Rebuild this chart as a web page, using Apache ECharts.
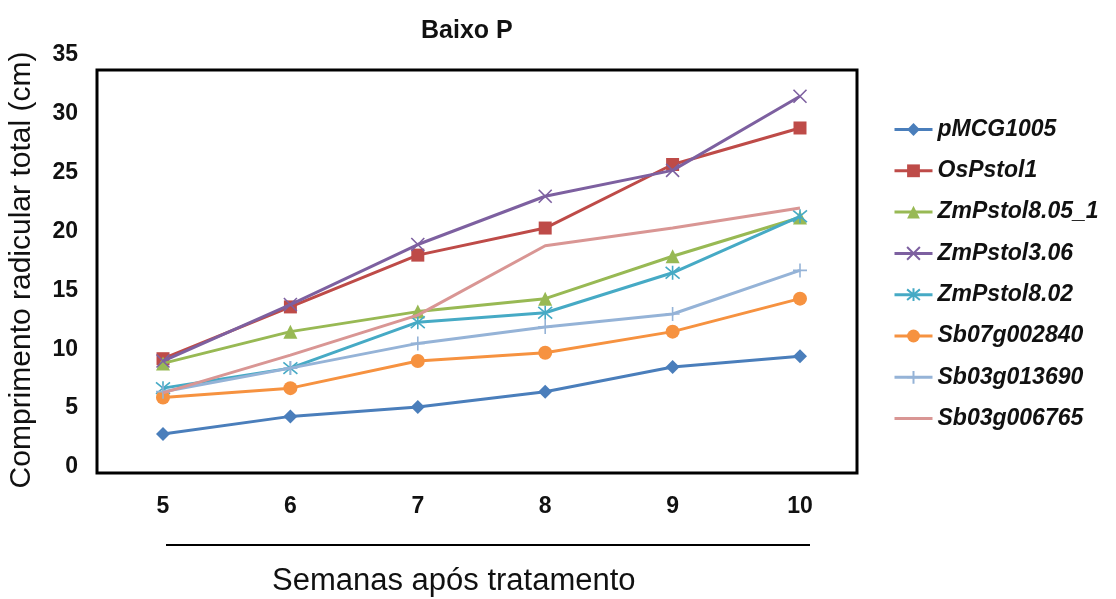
<!DOCTYPE html>
<html>
<head>
<meta charset="utf-8">
<script src="https://cdn.jsdelivr.net/npm/echarts@6/dist/echarts.min.js"></script>
<style>
  html, body { margin: 0; padding: 0; background: #ffffff; }
  #chart { width: 1116px; height: 599px; }
</style>
</head>
<body>
<div id="chart"></div>
<script>
// Weeks after treatment (x categories)
const weeks = ['5', '6', '7', '8', '9', '10'];

// Total root length (cm) per construct
const pMCG1005      = [2.8, 4.3, 5.1, 6.4, 8.5, 9.4];
const OsPstol1      = [9.2, 13.6, 18.0, 20.3, 25.7, 28.8];
const ZmPstol8_05_1 = [8.8, 11.5, 13.2, 14.3, 17.9, 21.2];
const ZmPstol3_06   = [9.0, 13.8, 18.9, 23.0, 25.2, 31.5];
const ZmPstol8_02   = [6.7, 8.4, 12.3, 13.1, 16.5, 21.3];
const Sb07g002840   = [5.9, 6.7, 9.0, 9.7, 11.5, 14.3];
const Sb03g013690   = [6.4, 8.4, 10.5, 11.9, 13.0, 16.7];
const Sb03g006765   = [6.3, 9.5, 12.9, 18.8, 20.3, 22.0];

const seriesNames = ['pMCG1005', 'OsPstol1', 'ZmPstol8.05_1', 'ZmPstol3.06',
                     'ZmPstol8.02', 'Sb07g002840', 'Sb03g013690', 'Sb03g006765'];
const seriesData = [pMCG1005, OsPstol1, ZmPstol8_05_1, ZmPstol3_06,
                    ZmPstol8_02, Sb07g002840, Sb03g013690, Sb03g006765];

const colors = ['#4A7EBB', '#BE4B48', '#98B954', '#7D60A0',
                '#46AAC5', '#F69240', '#95B3D7', '#D99694'];

// Marker shapes; stroked paths for the cross, asterisk and plus markers
const CROSS = 'path://M0,0L10,10M10,0L0,10';
const STAR  = 'path://M0,0L10,10M10,0L0,10M5,-1L5,11';
const PLUS  = 'path://M5,0L5,10M0,5L10,5';
const symbols = ['diamond', 'rect', 'triangle', CROSS, STAR, 'circle', PLUS, 'none'];
const sizes   = [14, 13, 14, 13, 14, 14, 14, 0];
const stroked = [false, false, false, true, true, false, true, false];

// Plain line swatch for the marker-less series in the legend
const LINE_ICON = 'path://M0,0L38,0L38,3L0,3Z';

const FONT = "'Liberation Sans', Arial, sans-serif";

const chart = echarts.init(document.getElementById('chart'));

chart.setOption({
  animation: false,
  backgroundColor: '#ffffff',
  color: colors,
  title: [
    {
      text: 'Baixo P',
      left: 416, top: 14,
      textStyle: { fontFamily: FONT, fontSize: 25, fontWeight: 'bold', color: '#111' }
    },
    {
      text: 'Semanas após tratamento',
      left: 267, top: 561,
      textStyle: { fontFamily: FONT, fontSize: 31, fontWeight: 'normal', color: '#111' }
    }
  ],
  grid: { left: 163, right: 316, top: 55, bottom: 132, containLabel: false },
  xAxis: {
    type: 'category',
    data: weeks,
    boundaryGap: false,
    axisLine: { show: false },
    axisTick: { show: false },
    axisLabel: {
      margin: 28,
      fontFamily: FONT, fontSize: 23, fontWeight: 'bold', color: '#111'
    },
    splitLine: { show: false }
  },
  yAxis: {
    type: 'value',
    min: 0, max: 35, interval: 5,
    axisLine: { show: false },
    axisTick: { show: false },
    splitLine: { show: false },
    axisLabel: {
      margin: 85,
      fontFamily: FONT, fontSize: 23, fontWeight: 'bold', color: '#111'
    }
  },
  legend: {
    orient: 'vertical',
    left: 888, top: 113,
    itemWidth: 38, itemHeight: 16,
    itemGap: 18.3,
    lineStyle: { width: 3 },
    textStyle: {
      fontFamily: FONT, fontSize: 23, fontWeight: 'bold', fontStyle: 'italic',
      color: '#111', lineHeight: 22
    },
    data: seriesNames.map((name, i) =>
      symbols[i] === 'none' ? { name: name, icon: LINE_ICON } : { name: name })
  },
  graphic: [
    {
      // plot frame
      type: 'rect',
      shape: { x: 97, y: 70, width: 760, height: 403 },
      style: { fill: 'none', stroke: '#000', lineWidth: 3 },
      silent: true
    },
    {
      // rule under the week labels
      type: 'line',
      shape: { x1: 166, y1: 545, x2: 810, y2: 545 },
      style: { stroke: '#000', lineWidth: 2 },
      silent: true
    },
    {
      // y axis title
      type: 'text',
      x: 22, y: 270,
      rotation: Math.PI / 2,
      style: {
        text: 'Comprimento radicular total (cm)',
        fontFamily: FONT, fontSize: 30, fill: '#111',
        align: 'center', verticalAlign: 'middle'
      },
      silent: true
    }
  ],
  series: seriesNames.map((name, i) => ({
    name: name,
    type: 'line',
    data: seriesData[i],
    symbol: symbols[i],
    symbolSize: sizes[i],
    showSymbol: symbols[i] !== 'none',
    lineStyle: { width: 3, color: colors[i] },
    itemStyle: stroked[i]
      ? { color: colors[i], borderColor: colors[i], borderWidth: 1.6 }
      : { color: colors[i], borderWidth: 0 },
    emphasis: { disabled: true },
    z: 2 + i
  }))
});
</script>
</body>
</html>
